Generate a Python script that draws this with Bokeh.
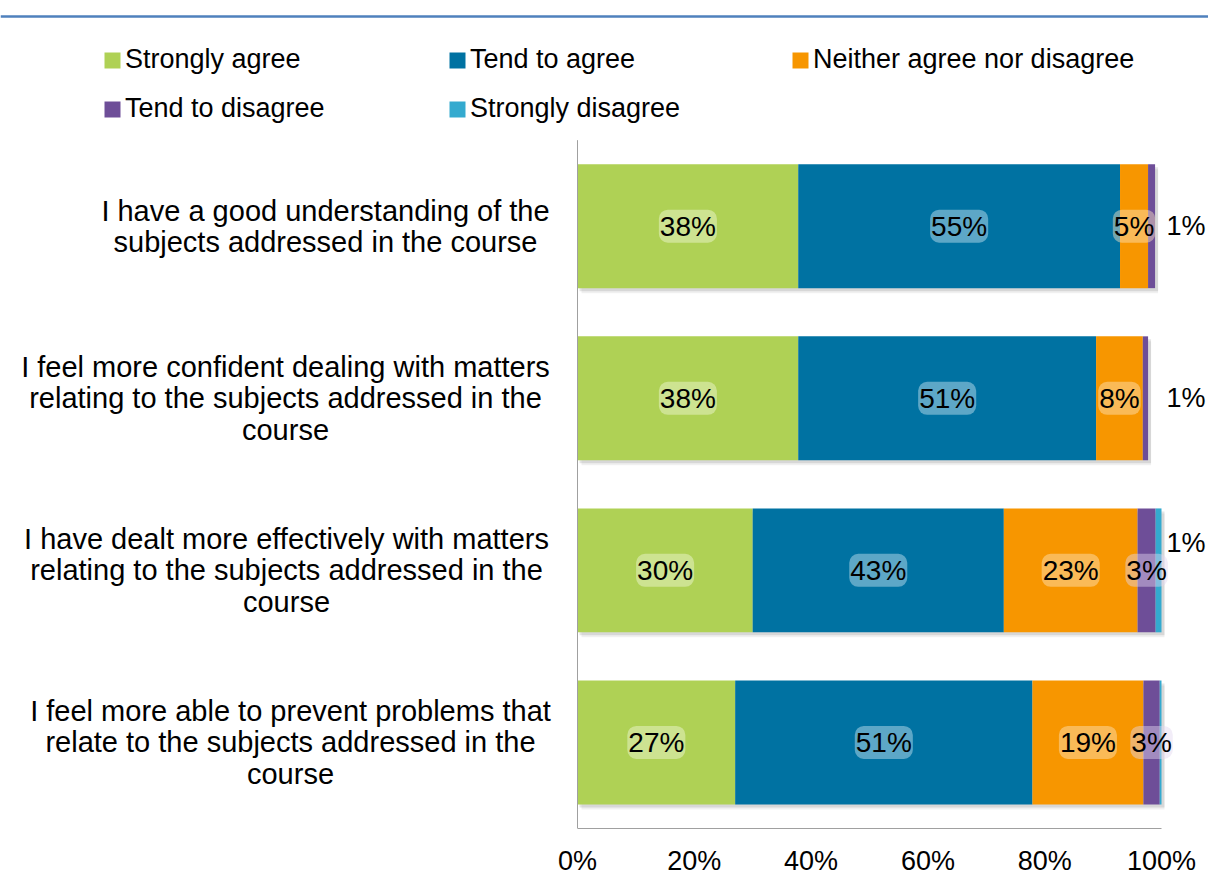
from bokeh.plotting import figure
from bokeh.models import ColumnDataSource, Legend, LegendItem, Range1d, Span
from bokeh.core.properties import value
from bokeh.embed import file_html
from bokeh.resources import INLINE

# ---------------- data ----------------
questions = [
    "I have a good understanding of the\nsubjects addressed in the course",
    "I feel more confident dealing with matters\nrelating to the subjects addressed in the\ncourse",
    "I have dealt more effectively with matters\nrelating to the subjects addressed in the\ncourse",
    "I feel more able to prevent problems that\nrelate to the subjects addressed in the\ncourse",
]

series_names = ["Strongly agree", "Tend to agree", "Neither agree nor disagree",
                "Tend to disagree", "Strongly disagree"]
strongly_agree = [37.8, 37.8, 30.0, 27.0]
tend_to_agree = [55.1, 51.0, 43.0, 50.9]
neither = [4.8, 8.0, 22.9, 19.0]
tend_to_disagree = [1.2, 0.9, 3.1, 2.8]
strongly_disagree = [0.0, 0.0, 1.0, 0.3]

x_ticks = [0, 20, 40, 60, 80, 100]
x_tick_labels = ["0%", "20%", "40%", "60%", "80%", "100%"]

# ---------------- layout / style ----------------
W, H = 1208, 878
PLOT_L, PLOT_R, PLOT_T, PLOT_B = 577, 1161, 140, 830
FONT = "Liberation Sans"
colors = ["#AFD155", "#0072A2", "#F79600", "#6E4E98", "#34AACF"]
glows = ["#F2F8DC", "#CFE8F3", "#FDE6C0", "#E2D8EF", "#D3EEF6"]
label_offsets = [-252, -292, -291, -287]          # label block centre, px left of axis
legend_locs = [(102, 753), (447, 753), (790, 753), (102, 704), (447, 704)]
BAR_H = 0.72

values = [strongly_agree, tend_to_agree, neither, tend_to_disagree, strongly_disagree]
n = len(questions)

px_x = (PLOT_R - PLOT_L) / 100.0
px_y = (PLOT_B - PLOT_T) / n
x_range = Range1d(-PLOT_L / px_x, 100 + (W - PLOT_R) / px_x)
y_range = Range1d(0, PLOT_B / px_y)

p = figure(width=W, height=H, x_range=x_range, y_range=y_range,
           output_backend="svg", toolbar_location=None, y_axis_location=None,
           min_border_left=0, min_border_right=0, min_border_top=0,
           min_border_bottom=H - PLOT_B)
p.outline_line_color = None
p.xgrid.visible = False
p.ygrid.visible = False

# stacked columns (first question at top)
ypos = [n - i - 0.5 for i in range(n)]
data = dict(y=ypos, q=questions)
lefts = [0.0] * n
for i, vals in enumerate(values):
    data[f"l{i}"] = list(lefts)
    data[f"r{i}"] = [a + b for a, b in zip(lefts, vals)]
    lefts = data[f"r{i}"]
data["total"] = lefts
data["y_sh1"] = [y - 3.0 / px_y for y in ypos]
data["y_sh2"] = [y - 5.0 / px_y for y in ypos]
data["r_sh"] = [t + 3.0 / px_x for t in lefts]
src = ColumnDataSource(data)

# soft shadow under bars
p.hbar(y="y_sh2", left=4.0 / px_x, right="r_sh", height=BAR_H, source=src,
       fill_color="#000000", fill_alpha=0.06, line_color=None)
p.hbar(y="y_sh1", left=2.0 / px_x, right="r_sh", height=BAR_H, source=src,
       fill_color="#000000", fill_alpha=0.10, line_color=None)

renderers = []
for i in range(len(values)):
    r = p.hbar(y="y", left=f"l{i}", right=f"r{i}", height=BAR_H, source=src,
               fill_color=colors[i], line_color=None)
    renderers.append(r)

# left axis line (spans the category band)
p.segment(x0=[0], y0=[0], x1=[0], y1=[n], line_color="#A0A0A0", line_width=1)

# x axis
p.xaxis.bounds = (x_ticks[0], x_ticks[-1])
p.xaxis.ticker = x_ticks
p.xaxis.major_label_overrides = {t: s for t, s in zip(x_ticks, x_tick_labels)}
p.xaxis.axis_line_color = "#A0A0A0"
p.xaxis.major_tick_line_color = None
p.xaxis.minor_tick_line_color = None
p.xaxis.major_tick_out = 0
p.xaxis.major_tick_in = 0
p.xaxis.major_label_standoff = 17
p.xaxis.major_label_text_font = FONT
p.xaxis.major_label_text_font_size = "27px"
p.xaxis.major_label_text_color = "#000000"

# category labels
cat_src = ColumnDataSource(dict(x=[0] * n, y=ypos, text=questions, xo=label_offsets))
p.text(x="x", y="y", text="text", x_offset="xo", source=cat_src,
       text_align="center", text_baseline="middle", text_font=value(FONT),
       text_font_size="29px", text_line_height=0.98, text_color="#000000")

# value labels
for i, vals in enumerate(values):
    ins = dict(x=[], y=[], text=[])
    out = dict(x=[], y=[], text=[])
    for k in range(n):
        v = vals[k]
        if v >= 2.5:
            ins["x"].append(data[f"l{i}"][k] + v / 2)
            ins["y"].append(ypos[k])
            ins["text"].append(f"{round(v)}%")
        elif v >= 0.5:
            out["x"].append(x_ticks[-1])
            out["y"].append(ypos[k])
            out["text"].append(f"{round(v)}%")
    if ins["x"]:
        p.text(x="x", y="y", text="text", source=ColumnDataSource(ins),
               text_align="center", text_baseline="middle", text_font=value(FONT),
               text_font_size="28px", text_color="#000000",
               background_fill_color=glows[i], background_fill_alpha=0.45,
               border_radius=9, padding=1)
    if out["x"]:
        p.text(x="x", y="y", text="text", source=ColumnDataSource(out),
               x_offset=5, y_offset=-27 if i == 4 else 0,
               text_align="left", text_baseline="middle", text_font=value(FONT),
               text_font_size="27px", text_color="#000000")

# legends
for i, name in enumerate(series_names):
    leg = Legend(items=[LegendItem(label=name, renderers=[renderers[i]])],
                 location=legend_locs[i], orientation="horizontal",
                 glyph_width=20, glyph_height=20, label_standoff=3,
                 padding=0, margin=0, spacing=0,
                 border_line_color=None, background_fill_alpha=0,
                 label_text_font=FONT, label_text_font_size="27px",
                 label_text_color="#000000")
    p.add_layout(leg)

# top rule
p.add_layout(Span(location=(PLOT_B - 16) / px_y, dimension="width",
                  line_color="#4F81BD", line_width=2.5))

open("out.html", "w").write(file_html(p, INLINE))
